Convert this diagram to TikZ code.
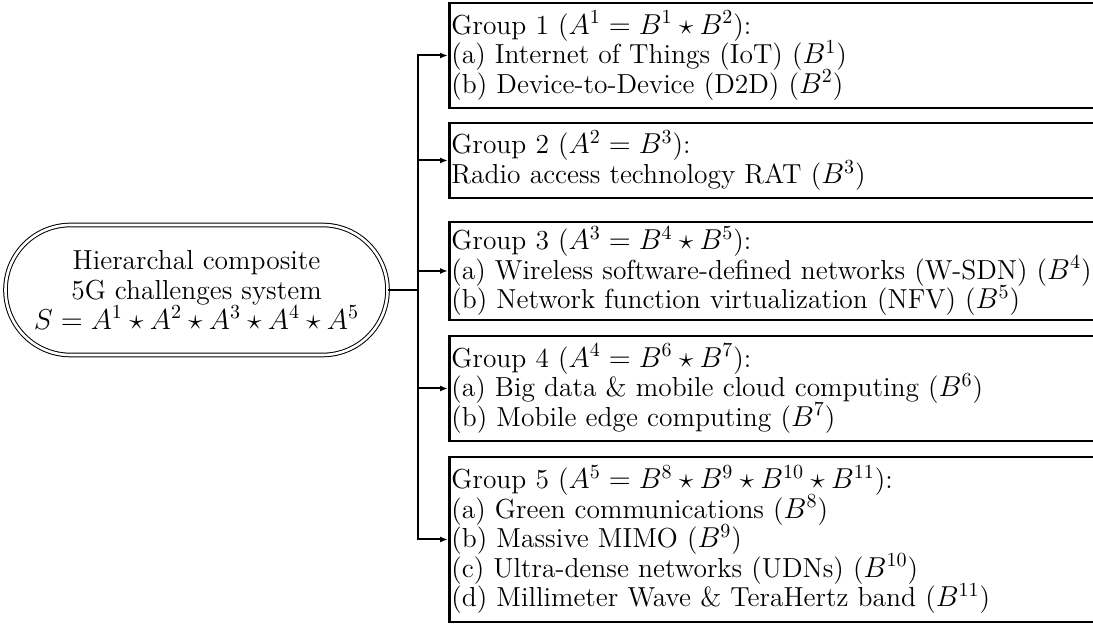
\documentclass[tikz,border=0pt]{standalone}
\usetikzlibrary{arrows.meta,shapes.misc}
\newcommand{\diagfont}{\fontsize{13.75}{14.8}\selectfont\lineskiplimit=-20pt\relax}

\begin{document}
\begin{tikzpicture}[x=0.5pt, y=-0.5pt,
>={Latex[length=4pt,width=3pt]},
txt/.style={font=\diagfont},
system/.style={txt, rounded rectangle, draw, double, double distance=1.3pt, line width=0.5pt,
  minimum width=191pt, minimum height=65pt, align=center, inner sep=0pt},
group/.style={txt, draw, line width=1.4pt, anchor=west, text width=400pt, align=left,
  inner xsep=1pt, inner ysep=0pt},
link/.style={line width=1pt},
]
\useasboundingbox (0,0) rectangle (1093,625);

%%%%%%%%%%%%%%%%%%%%%%%% SYSTEM %%%%%%%%%%%%%%%%%%%%%%%%%%%
\node[system] (sys) at (196.5,290) {Hierarchal composite\\ 5G challenges system\\ $S = A^1 \star A^2 \star A^3 \star A^4 \star A^5$};

%%%%%%%%%%%%%%%%%%%%%%%% GROUPS %%%%%%%%%%%%%%%%%%%%%%%%%%%
\node[group, minimum height=52.5pt] (g1) at (448,55.5) {Group 1 ($A^1 = B^1 \star B^2$):\\ (a) Internet of Things (IoT) ($B^1$)\\ (b) Device-to-Device (D2D) ($B^2$)};
\node[group, minimum height=37.5pt] (g2) at (448,160.5) {Group 2 ($A^2 = B^3$):\\ Radio access technology RAT ($B^3$)};
\node[group, minimum height=49pt] (g3) at (448,271) {Group 3 ($A^3 = B^4 \star B^5$):\\ (a) Wireless software-defined networks (W-SDN) ($B^4$)\\ (b) Network function virtualization (NFV) ($B^5$)};
\node[group, minimum height=52.5pt] (g4) at (448,388.5) {Group 4 ($A^4 = B^6 \star B^7$):\\ (a) Big data \& mobile cloud computing ($B^6$)\\ (b) Mobile edge computing ($B^7$)};
\node[group, minimum height=82.5pt] (g5) at (448,539.5) {Group 5 ($A^5 = B^8 \star B^9 \star B^{10} \star B^{11}$):\\ (a) Green communications ($B^8$)\\ (b) Massive MIMO ($B^9$)\\ (c) Ultra-dense networks (UDNs) ($B^{10}$)\\ (d) Millimeter Wave \& TeraHertz band ($B^{11}$)};

%%%%%%%%%%%%%%%%%%%%%%%% LINKS %%%%%%%%%%%%%%%%%%%%%%%%%%%
\coordinate (trunk) at ([xshift=15pt]sys.east);
\draw[link] (sys.east) -- (trunk);
\foreach \g in {g1,g2,g3,g4,g5}
  \draw[link, ->] (trunk) |- (\g.west);
\end{tikzpicture}
\end{document}
